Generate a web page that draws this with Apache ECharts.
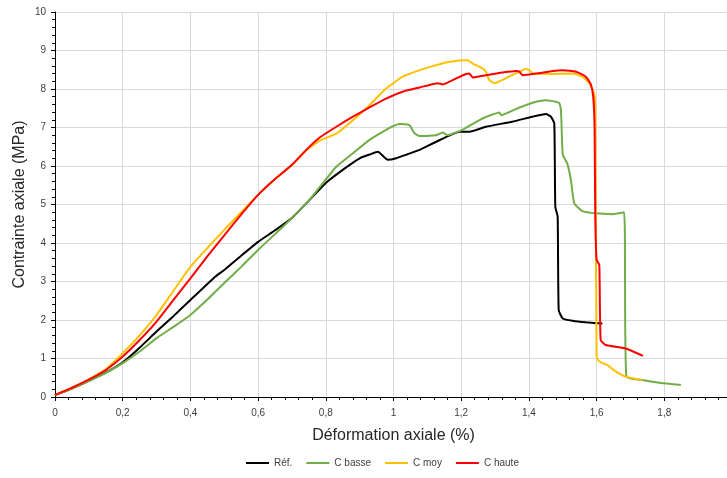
<!DOCTYPE html>
<html><head><meta charset="utf-8">
<script src="https://cdn.jsdelivr.net/npm/echarts@6/dist/echarts.min.js"></script>
<style>html,body{margin:0;padding:0;overflow:hidden;background:#fff;width:727px;height:478px}#c{width:735px;height:478px}</style>
</head><body><div id="c"></div>
<script>
const seriesNames = ['Réf.', 'C basse', 'C moy', 'C haute'];
const seriesColors = ['#000000', '#70AD47', '#FFC000', '#FF0000'];

const refX = [0, 0.05, 0.1, 0.15, 0.2, 0.25, 0.3, 0.35, 0.4, 0.47, 0.5, 0.55, 0.6, 0.65, 0.7, 0.75, 0.8, 0.85, 0.9, 0.93, 0.954, 0.983, 1.008, 1.04, 1.077, 1.126, 1.195, 1.224, 1.273, 1.351, 1.41, 1.45, 1.465, 1.475, 1.478, 1.485, 1.488, 1.5, 1.529, 1.568, 1.617];
const refY = [0.05, 0.22, 0.42, 0.63, 0.9, 1.28, 1.7, 2.1, 2.52, 3.1, 3.3, 3.67, 4.03, 4.33, 4.65, 5.1, 5.56, 5.9, 6.2, 6.3, 6.37, 6.16, 6.2, 6.3, 6.42, 6.63, 6.89, 6.89, 7.02, 7.15, 7.28, 7.35, 7.28, 7.1, 4.94, 4.68, 2.26, 2.04, 1.98, 1.94, 1.91];

const basseX = [0, 0.05, 0.1, 0.15, 0.2, 0.25, 0.3, 0.35, 0.4, 0.45, 0.5, 0.55, 0.6, 0.65, 0.7, 0.75, 0.782, 0.831, 0.88, 0.929, 0.978, 1.0, 1.018, 1.047, 1.062, 1.077, 1.126, 1.146, 1.16, 1.204, 1.264, 1.313, 1.318, 1.372, 1.421, 1.45, 1.48, 1.49, 1.495, 1.5, 1.514, 1.524, 1.534, 1.558, 1.598, 1.647, 1.681, 1.688, 1.735, 1.785, 1.849];
const basseY = [0.05, 0.22, 0.42, 0.63, 0.88, 1.18, 1.53, 1.82, 2.13, 2.53, 2.96, 3.38, 3.82, 4.23, 4.65, 5.1, 5.45, 5.98, 6.33, 6.68, 6.94, 7.04, 7.09, 7.06, 6.85, 6.78, 6.8, 6.87, 6.8, 6.94, 7.24, 7.39, 7.32, 7.52, 7.67, 7.71, 7.67, 7.63, 7.4, 6.3, 6.05, 5.64, 5.03, 4.83, 4.77, 4.75, 4.8, 0.53, 0.44, 0.37, 0.31];

const moyX = [0, 0.05, 0.1, 0.15, 0.2, 0.25, 0.3, 0.35, 0.4, 0.45, 0.5, 0.55, 0.6, 0.65, 0.7, 0.74, 0.782, 0.831, 0.88, 0.929, 0.978, 1.027, 1.077, 1.126, 1.155, 1.195, 1.219, 1.234, 1.264, 1.273, 1.283, 1.298, 1.332, 1.372, 1.391, 1.401, 1.411, 1.47, 1.529, 1.558, 1.578, 1.593, 1.596, 1.6, 1.608, 1.632, 1.657, 1.686, 1.735];
const moyY = [0.05, 0.24, 0.46, 0.72, 1.14, 1.6, 2.13, 2.76, 3.38, 3.87, 4.34, 4.8, 5.25, 5.66, 6.02, 6.38, 6.66, 6.84, 7.19, 7.58, 8.01, 8.32, 8.49, 8.62, 8.69, 8.74, 8.75, 8.66, 8.53, 8.45, 8.23, 8.15, 8.28, 8.45, 8.52, 8.49, 8.4, 8.39, 8.4, 8.32, 8.15, 7.88, 7.5, 1.05, 0.92, 0.83, 0.66, 0.53, 0.44];

const hauteX = [0, 0.05, 0.1, 0.15, 0.2, 0.25, 0.3, 0.35, 0.4, 0.45, 0.5, 0.55, 0.6, 0.65, 0.7, 0.74, 0.782, 0.831, 0.88, 0.929, 0.978, 1.027, 1.077, 1.131, 1.146, 1.175, 1.214, 1.224, 1.234, 1.273, 1.322, 1.362, 1.372, 1.381, 1.421, 1.47, 1.5, 1.539, 1.568, 1.583, 1.59, 1.594, 1.596, 1.6, 1.608, 1.612, 1.627, 1.686, 1.716, 1.737];
const hauteY = [0.05, 0.24, 0.45, 0.7, 1.05, 1.48, 1.96, 2.52, 3.08, 3.65, 4.2, 4.74, 5.25, 5.66, 6.03, 6.4, 6.74, 7.02, 7.28, 7.52, 7.75, 7.93, 8.04, 8.15, 8.12, 8.23, 8.39, 8.4, 8.3, 8.36, 8.43, 8.47, 8.45, 8.36, 8.4, 8.47, 8.49, 8.45, 8.32, 8.12, 7.8, 7.0, 4.77, 3.56, 3.43, 1.48, 1.35, 1.26, 1.15, 1.07];

const xsList = [refX, basseX, moyX, hauteX];
const ysList = [refY, basseY, moyY, hauteY];

const fmt = v => String(Math.round(v * 10) / 10).replace('.', ',');
const font = 'Liberation Sans';

const chart = echarts.init(document.getElementById('c'));
chart.setOption({
  animation: false,
  backgroundColor: '#fff',
  textStyle: { fontFamily: font },
  grid: { left: 55, right: 2, top: 12, bottom: 81, containLabel: false },
  legend: {
    bottom: 5, left: 241,
    itemWidth: 23, itemHeight: 2, itemGap: 14,
    icon: 'rect',
    textStyle: { fontSize: 10, color: '#404040', fontFamily: font },
    data: seriesNames
  },
  xAxis: {
    type: 'value', min: 0, max: 2, interval: 0.2,
    name: 'Déformation axiale (%)', nameLocation: 'middle', nameGap: 31,
    nameMoveOverlap: false,
    nameTextStyle: { fontSize: 16, color: '#262626', fontFamily: font },
    axisLine: { lineStyle: { color: '#000', width: 1 } },
    axisTick: { show: true, length: 4, lineStyle: { color: '#000' } },
    minorTick: { show: true, splitNumber: 5, length: 3, lineStyle: { color: '#000' } },
    splitLine: { show: true, lineStyle: { color: '#d9d9d9', width: 1 } },
    axisLabel: { fontSize: 10, color: '#404040', margin: 11, formatter: v => (v > 1.95 ? '' : fmt(v)) }
  },
  yAxis: {
    type: 'value', min: 0, max: 10, interval: 1,
    name: 'Contrainte axiale (MPa)', nameLocation: 'middle', nameGap: 27,
    nameMoveOverlap: false,
    nameTextStyle: { fontSize: 16, color: '#262626', fontFamily: font },
    axisLine: { show: true, lineStyle: { color: '#000', width: 1 } },
    axisTick: { show: true, length: 4, lineStyle: { color: '#000' } },
    minorTick: { show: true, splitNumber: 5, length: 3, lineStyle: { color: '#000' } },
    splitLine: { show: true, lineStyle: { color: '#d9d9d9', width: 1 } },
    axisLabel: { fontSize: 10, color: '#404040', margin: 9, formatter: v => fmt(v) }
  },
  series: seriesNames.map((n, i) => ({
    name: n, type: 'line', showSymbol: false, symbol: 'none',
    smooth: 0.15,
    data: xsList[i].map((x, j) => [x, ysList[i][j]]),
    lineStyle: { color: seriesColors[i], width: 2 },
    itemStyle: { color: seriesColors[i] },
    z: 2 + i
  }))
});
</script></body></html>
